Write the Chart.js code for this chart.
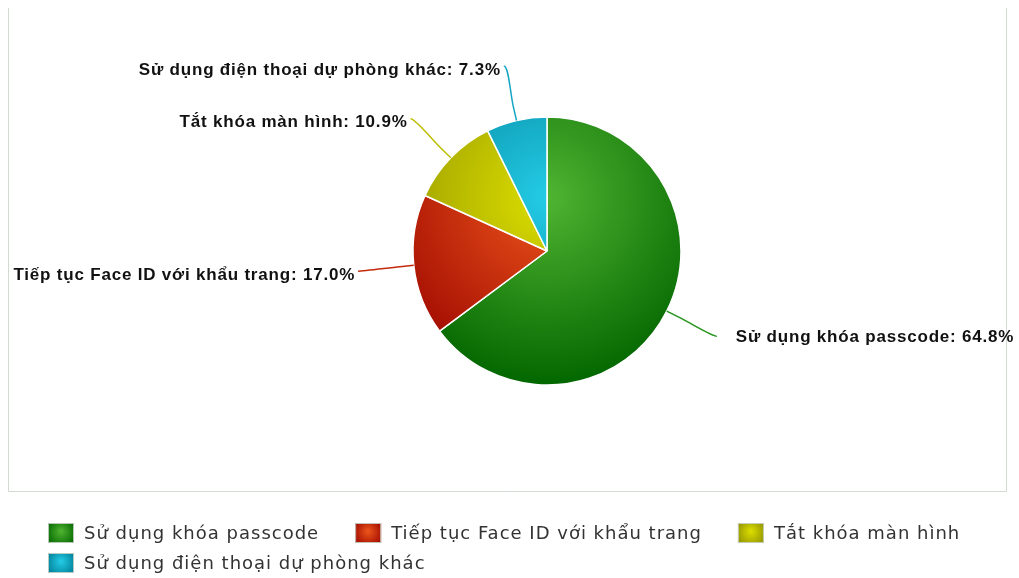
<!DOCTYPE html>
<html>
<head>
<meta charset="utf-8">
<script src="https://cdn.jsdelivr.net/npm/chart.js@4"></script>
<style>
	html, body { margin: 0; padding: 0; background: #fff; overflow: hidden; }
	canvas { display: block; }
</style>
</head>
<body>
<canvas id="chart" width="1019" height="578"></canvas>
<script>
(function () {
	/*global Chart */

	// Data
	var categories = [
		'Sử dụng khóa passcode',
		'Tiếp tục Face ID với khẩu trang',
		'Tắt khóa màn hình',
		'Sử dụng điện thoại dự phòng khác'
	];
	var shares = [64.8, 17.0, 10.9, 7.3];
	var baseColors = ['#50B432', '#ED561B', '#DDDF00', '#24CBE5'];
	var lineColors = ['#24941a', '#c42a0c', '#bcbe00', '#16a6c4'];

	var PIE_RADIUS = 134;
	var LABEL_DISTANCE = 56;

	// Darken a hex colour by a fraction of 255 on every channel
	function darken(hex, amount) {
		var n = parseInt(hex.slice(1), 16);
		var d = Math.round(amount * 255);
		var r = Math.max(0, (n >> 16) - d),
			g = Math.max(0, ((n >> 8) & 255) - d),
			b = Math.max(0, (n & 255) - d);
		return 'rgb(' + r + ',' + g + ',' + b + ')';
	}

	// One radial gradient over the whole pie, light near the top of the centre
	function sliceGradient(context) {
		var chart = context.chart,
			area = chart.chartArea,
			base = baseColors[context.dataIndex];
		if (!area) {
			return base;
		}
		var cx = (area.left + area.right) / 2,
			cy = (area.top + area.bottom) / 2 - 0.4 * PIE_RADIUS;
		var grad = chart.ctx.createRadialGradient(cx, cy, 0, cx, cy, 1.4 * PIE_RADIUS);
		grad.addColorStop(0, base);
		grad.addColorStop(1, darken(base, 0.3));
		return grad;
	}

	// Light frame around the plot region (no top line, like the original)
	var framePlugin = {
		id: 'frame',
		beforeDraw: function (chart) {
			var ctx = chart.ctx;
			ctx.save();
			ctx.strokeStyle = '#d2dad2';
			ctx.lineWidth = 1;
			ctx.beginPath();
			ctx.moveTo(8.5, 8);
			ctx.lineTo(8.5, 491.5);
			ctx.lineTo(chart.width - 12.5, 491.5);
			ctx.lineTo(chart.width - 12.5, 8);
			ctx.stroke();
			ctx.restore();
		}
	};

	// Outside labels with soft connectors
	var pieLabelsPlugin = {
		id: 'pieLabels',
		afterDatasetsDraw: function (chart) {
			var ctx = chart.ctx,
				meta = chart.getDatasetMeta(0);
			ctx.save();
			ctx.font = 'bold 17px "Liberation Sans", Arial, Helvetica, sans-serif';
			ctx.letterSpacing = '0.8px';
			ctx.textBaseline = 'middle';
			meta.data.forEach(function (arc, i) {
				var p = arc.getProps(['x', 'y', 'startAngle', 'endAngle', 'outerRadius'], true);
				var mid = (p.startAngle + p.endAngle) / 2,
					cos = Math.cos(mid),
					sin = Math.sin(mid),
					r = p.outerRadius,
					left = cos < 0;
				var touch = { x: p.x + r * cos, y: p.y + r * sin },
					brk = { x: p.x + (r + LABEL_DISTANCE / 4) * cos, y: p.y + (r + LABEL_DISTANCE / 4) * sin },
					anchor = { x: p.x + (r + LABEL_DISTANCE) * cos, y: p.y + (r + LABEL_DISTANCE) * sin };

				ctx.strokeStyle = lineColors[i];
				ctx.lineWidth = 1.5;
				ctx.beginPath();
				ctx.moveTo(anchor.x, anchor.y);
				ctx.bezierCurveTo(
					anchor.x + (left ? 5 : -5), anchor.y,
					2 * brk.x - touch.x, 2 * brk.y - touch.y,
					brk.x, brk.y
				);
				ctx.lineTo(touch.x, touch.y);
				ctx.stroke();

				var text = categories[i] + ': ' + shares[i].toFixed(1) + '%';
				ctx.fillStyle = '#111';
				if (left) {
					ctx.textAlign = 'right';
					ctx.fillText(text, anchor.x - 3, anchor.y + 4);
				} else {
					ctx.textAlign = 'left';
					ctx.fillText(text, anchor.x + 19, anchor.y + 1);
				}
			});
			ctx.restore();
		}
	};

	// Legend below the frame, rows left aligned
	var legendPlugin = {
		id: 'bottomLegend',
		afterDraw: function (chart) {
			var ctx = chart.ctx;
			var startX = 48, x = startX, y = 523,
				boxW = 26, boxH = 20, gap = 10, itemGap = 36, rowH = 30,
				maxRight = chart.width - 20;
			ctx.save();
			ctx.font = '18px "DejaVu Sans", sans-serif';
			ctx.letterSpacing = '1px';
			ctx.textBaseline = 'middle';
			ctx.textAlign = 'left';
			categories.forEach(function (label, i) {
				var w = boxW + gap + ctx.measureText(label).width;
				if (x > startX && x + w > maxRight) {
					x = startX;
					y += rowH;
				}
				var gx = x + boxW / 2, gy = y + boxH / 2;
				var grad = ctx.createRadialGradient(gx, gy - 2, 0, gx, gy, boxW * 0.6);
				grad.addColorStop(0, baseColors[i]);
				grad.addColorStop(1, darken(baseColors[i], 0.3));
				ctx.fillStyle = grad;
				ctx.fillRect(x, y, boxW, boxH);
				ctx.strokeStyle = 'rgba(200,210,200,0.9)';
				ctx.lineWidth = 1;
				ctx.strokeRect(x + 0.5, y + 0.5, boxW - 1, boxH - 1);
				ctx.fillStyle = '#333';
				ctx.fillText(label, x + boxW + gap, y + boxH / 2 + 1);
				x += w + itemGap;
			});
			ctx.restore();
		}
	};

	new Chart(document.getElementById('chart'), {
		type: 'pie',
		data: {
			labels: categories,
			datasets: [
				{
					data: shares,
					backgroundColor: sliceGradient,
					borderColor: '#ffffff',
					borderWidth: 1.5,
					radius: PIE_RADIUS,
					hoverOffset: 0
				}
			]
		},
		options: {
			responsive: false,
			animation: false,
			layout: {
				padding: { left: 75, right: 0, top: 0, bottom: 76 }
			},
			plugins: {
				legend: { display: false },
				tooltip: { enabled: false }
			}
		},
		plugins: [framePlugin, pieLabelsPlugin, legendPlugin]
	});
})();
</script>
</body>
</html>
